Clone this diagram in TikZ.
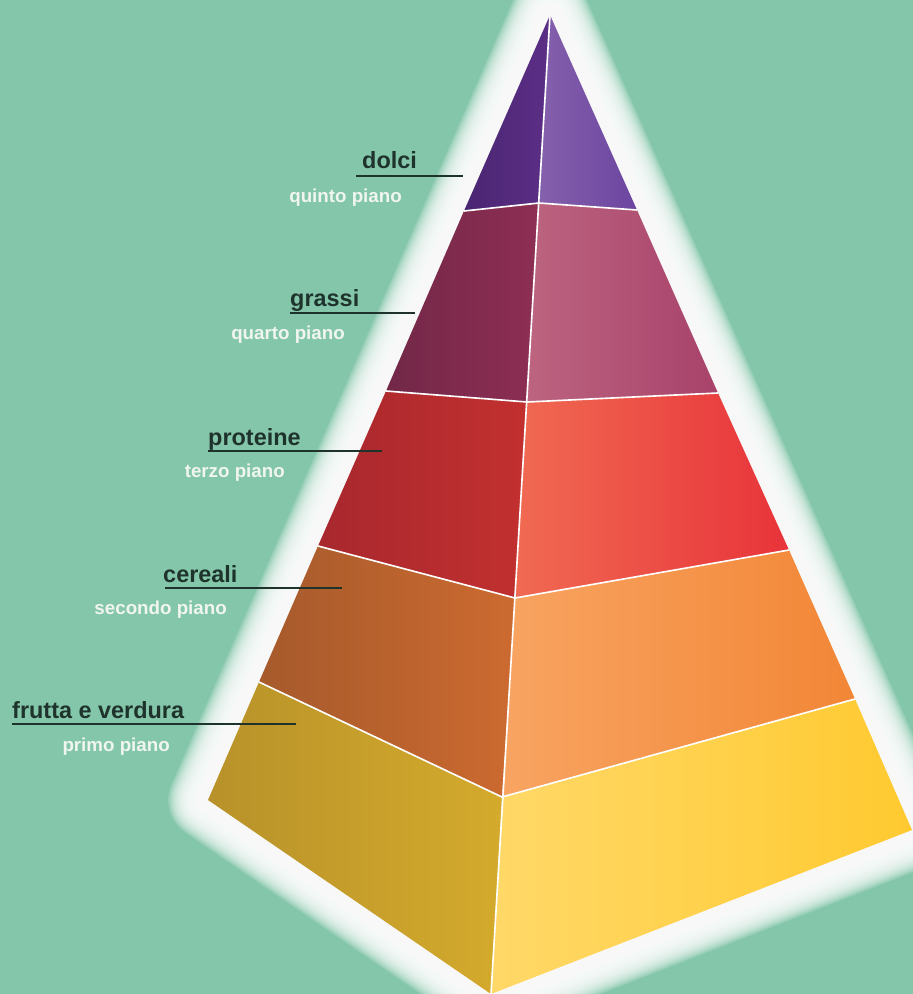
\documentclass[tikz,border=0pt]{standalone}
\usepackage{fontspec}
\setmainfont{Liberation Sans}
\usetikzlibrary{calc}
\definecolor{sfondo}{HTML}{84C6AA}
\definecolor{scuro}{HTML}{1F332D}
\definecolor{chiaro}{HTML}{F0F5F0}
% colori dei piani (sinistra a, b / destra c, d)
\definecolor{unoA}{HTML}{B8922A}    \definecolor{unoB}{HTML}{D4AA2C}
\definecolor{unoC}{HTML}{FFD868}    \definecolor{unoD}{HTML}{FFCA30}
\definecolor{dueA}{HTML}{A65A2C}    \definecolor{dueB}{HTML}{CC6A30}
\definecolor{dueC}{HTML}{F8A462}    \definecolor{dueD}{HTML}{F28636}
\definecolor{treA}{HTML}{A8282E}    \definecolor{treB}{HTML}{C2302F}
\definecolor{treC}{HTML}{F06A52}    \definecolor{treD}{HTML}{E8333A}
\definecolor{quattroA}{HTML}{722848} \definecolor{quattroB}{HTML}{8E2E54}
\definecolor{quattroC}{HTML}{BC6480} \definecolor{quattroD}{HTML}{A8426A}
\definecolor{cinqueA}{HTML}{4A2672}  \definecolor{cinqueB}{HTML}{5C2E86}
\definecolor{cinqueC}{HTML}{8560AC}  \definecolor{cinqueD}{HTML}{6B45A0}

\begin{document}
\begin{tikzpicture}[
  x=0.03cm, y=-0.03cm,
  etichetta/.style={font=\fontsize{20}{24}\selectfont\bfseries, text=scuro,
                    inner sep=0pt, anchor=base west},
  piano/.style={font=\fontsize{16}{19}\selectfont\bfseries, text=chiaro,
                inner sep=0pt, anchor=base east},
  sottolinea/.style={draw=scuro, line width=1.5pt},
  bordo/.style={draw=white, line width=1.4pt, line join=round},
  alone/.style={draw=white, line join=round, opacity=0.13}
]

\clip (0,0) rectangle (913,994);
\fill[sfondo] (0,0) rectangle (913,994);

% vertici della piramide
\coordinate (apex) at (550,15);
\coordinate (l0) at (208,800);  \coordinate (m0) at (491,994);  \coordinate (r0) at (912,830);
\coordinate (l1) at (259,682);  \coordinate (m1) at (502,797);  \coordinate (r1) at (855,699);
\coordinate (l2) at (318,546);  \coordinate (m2) at (515,598);  \coordinate (r2) at (789,550);
\coordinate (l3) at (386,391);  \coordinate (m3) at (527,402);  \coordinate (r3) at (718,393);
\coordinate (l4) at (464,211);  \coordinate (m4) at (539,203);  \coordinate (r4) at (637,210);

% alone bianco
\foreach \w in {8,10,...,68}
  \draw[alone, line width=\w pt] (apex) -- (r0) -- (m0) -- (l0) -- cycle;

% primo piano
\shade[left color=unoA, right color=unoB] (l0) -- (m0) -- (m1) -- (l1) -- cycle;
\shade[left color=unoC, right color=unoD] (m0) -- (r0) -- (r1) -- (m1) -- cycle;
% secondo piano
\shade[left color=dueA, right color=dueB] (l1) -- (m1) -- (m2) -- (l2) -- cycle;
\shade[left color=dueC, right color=dueD] (m1) -- (r1) -- (r2) -- (m2) -- cycle;
% terzo piano
\shade[left color=treA, right color=treB] (l2) -- (m2) -- (m3) -- (l3) -- cycle;
\shade[left color=treC, right color=treD] (m2) -- (r2) -- (r3) -- (m3) -- cycle;
% quarto piano
\shade[left color=quattroA, right color=quattroB] (l3) -- (m3) -- (m4) -- (l4) -- cycle;
\shade[left color=quattroC, right color=quattroD] (m3) -- (r3) -- (r4) -- (m4) -- cycle;
% quinto piano
\shade[left color=cinqueA, right color=cinqueB] (l4) -- (m4) -- (apex) -- cycle;
\shade[left color=cinqueC, right color=cinqueD] (m4) -- (r4) -- (apex) -- cycle;

% spigoli
\draw[bordo] (apex) -- (m0);
\foreach \i in {1,...,4}
  \draw[bordo] (l\i) -- (m\i) -- (r\i);

% etichette
\node[etichetta] (dolci)    at (362,168) {dolci};
\node[etichetta] (grassi)   at (290,306) {grassi};
\node[etichetta] (proteine) at (208,445) {proteine};
\node[etichetta] (cereali)  at (163,582) {cereali};
\node[etichetta] (frutta)   at (12,718)  {frutta e verdura};

\node[piano] (p5) at (402,202) {quinto piano};
\node[piano] (p4) at (345,339) {quarto piano};
\node[piano] (p3) at (285,477) {terzo piano};
\node[piano] (p2) at (227,614) {secondo piano};
\node[piano] (p1) at (170,751) {primo piano};

\coordinate (f5) at (463,176);
\coordinate (f4) at (415,313);
\coordinate (f3) at (382,451);
\coordinate (f2) at (342,588);
\coordinate (f1) at (296,724);

\draw[sottolinea] ([xshift=-5]dolci.base west |- f5) -- (f5);
\draw[sottolinea] (grassi.base west |- f4) -- (f4);
\draw[sottolinea] (proteine.base west |- f3) -- (f3);
\draw[sottolinea] ([xshift=2]cereali.base west |- f2) -- (f2);
\draw[sottolinea] (frutta.base west |- f1) -- (f1);

\end{tikzpicture}
\end{document}
